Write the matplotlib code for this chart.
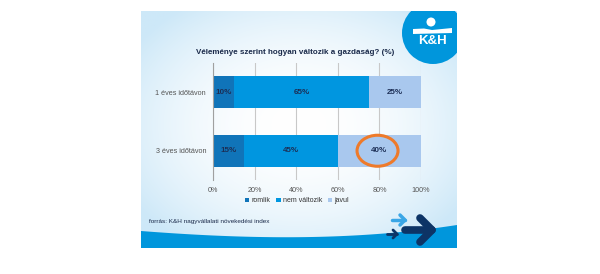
import numpy as np
import matplotlib
matplotlib.use("Agg")
import matplotlib.pyplot as plt
from matplotlib.patches import Ellipse, Circle, Polygon, Rectangle

plt.rcParams['font.family'] = ['Liberation Sans', 'DejaVu Sans']

# Data
categories = ['1 éves időtávon', '3 éves időtávon']
series_names = ['romlik', 'nem változik', 'javul']
romlik = [10, 15]
nem_valtozik = [65, 45]
javul = [25, 40]
xticks = [0, 20, 40, 60, 80, 100]
xtick_labels = ['0%', '20%', '40%', '60%', '80%', '100%']

colors = ['#1074b9', '#0096e0', '#a9c8ee']
W, H = 600, 274

fig = plt.figure(figsize=(6.0, 2.74), dpi=100)
fig.patch.set_facecolor('white')

# background / decoration axes in pixel coordinates
bg = fig.add_axes([0, 0, 1, 1])
bg.set_xlim(0, W)
bg.set_ylim(H, 0)
bg.axis('off')

sx0, sx1, sy0, sy1 = 141, 457, 11, 248
yy, xx = np.mgrid[0:1:200j, 0:1:300j]
r = np.sqrt(((xx - 0.5) / 0.62) ** 2 + ((yy - 0.48) / 0.62) ** 2)
t = np.clip(r, 0, 1) ** 2
edge = np.array([205, 232, 248]) / 255.0
img = (1 - t[..., None]) * 1.0 + t[..., None] * edge
bg.imshow(img, extent=[sx0, sx1, sy1, sy0], aspect='auto', zorder=0)
clip_rect = Rectangle((sx0, sy0), sx1 - sx0, sy1 - sy0, transform=bg.transData)

# bottom wave
ctrl_x = [141, 260, 390, 457]
ctrl_y = [231, 237, 233, 225]
coef = np.polyfit(ctrl_x, ctrl_y, 3)
wx = np.linspace(sx0, sx1, 80)
wtop = np.polyval(coef, wx)
wave = Polygon(np.column_stack([np.r_[wx, sx1, sx0], np.r_[wtop, sy1, sy1]]),
               closed=True, facecolor='#0096dc', edgecolor='none', zorder=1)
bg.add_patch(wave)

# logo
logo = Circle((433, 33), 31, facecolor='#0096dc', edgecolor='none', zorder=2)
bg.add_patch(logo)
logo.set_clip_path(clip_rect)
bg.add_patch(Circle((431, 22), 4.5, facecolor='white', edgecolor='none', zorder=3))
band = Polygon([(413, 29), (424, 28.5), (432, 30), (452, 28), (452, 33), (413, 34)],
               closed=True, facecolor='white', edgecolor='none', zorder=3)
bg.add_patch(band)
bg.text(432, 41.5, 'K&H', color='white', fontsize=9.5, fontweight='bold',
        ha='center', va='center', zorder=4)

# arrows
def chevron(x0, x1, y, hw, hl, lw, c):
    bg.plot([x0, x1], [y, y], color=c, lw=lw, solid_capstyle='round', zorder=3)
    bg.plot([x1 - hl, x1, x1 - hl], [y - hw, y, y + hw], color=c, lw=lw,
            solid_capstyle='round', solid_joinstyle='round', zorder=3)

chevron(405, 432, 230, 12, 12, 5.5, '#0d3466')
chevron(392, 405, 220, 5, 5, 2.5, '#3aa6e6')
chevron(387, 397, 234, 4, 4, 2, '#0d3466')

# texts
bg.text(295, 52, 'Véleménye szerint hogyan változik a gazdaság? (%)',
        fontsize=5.8, fontweight='bold', color='#1a2a4a', ha='center', va='center')
bg.text(149, 222, 'forrás: K&H nagyvállalati növekedési index',
        fontsize=4.6, color='#1a2a4a', ha='left', va='center')

# chart axes
ax = fig.add_axes([213 / W, (H - 180) / H, 208 / W, 117 / H])
ax.patch.set_alpha(0)
y = np.arange(len(categories))
left = np.zeros(len(categories))
for vals, c, name in zip([romlik, nem_valtozik, javul], colors, series_names):
    ax.barh(y, vals, left=left, height=0.55, color=c, label=name, zorder=2)
    for yi, v, l in zip(y, vals, left):
        ax.text(l + v / 2, yi, f'{v}%', ha='center', va='center', fontsize=5.8,
                fontweight='bold', color='#1c2e55', zorder=3)
    left = left + np.array(vals)

ax.set_xlim(0, 100)
ax.set_ylim(1.5, -0.5)
ax.set_xticks(xticks)
ax.set_xticklabels(xtick_labels)
ax.set_yticks(y)
ax.set_yticklabels(categories)
ax.tick_params(axis='both', length=0, labelsize=5.2, colors='#555555')
ax.tick_params(axis='x', pad=5)
ax.tick_params(axis='y', pad=5)
ax.grid(axis='x', color='#c8c8c8', lw=0.8, zorder=0)
for s in ['top', 'right', 'bottom']:
    ax.spines[s].set_visible(False)
ax.spines['left'].set_color('#a0a0a0')
ax.spines['left'].set_linewidth(0.8)

# highlight ellipse around 40%
ax.add_patch(Ellipse((79.1, 1.0), 19.7, 0.53, facecolor='none',
                     edgecolor='#ee7a2a', lw=2.2, zorder=4, clip_on=False))

leg = fig.legend(loc='center', bbox_to_anchor=(297 / W, (H - 201) / H), ncol=3,
                 frameon=False, fontsize=5.0, handlelength=0.6, handleheight=0.6,
                 handletextpad=0.3, columnspacing=0.9, borderpad=0)
for txt in leg.get_texts():
    txt.set_color('#333333')

fig.savefig('out.png', dpi=100, facecolor='white')
